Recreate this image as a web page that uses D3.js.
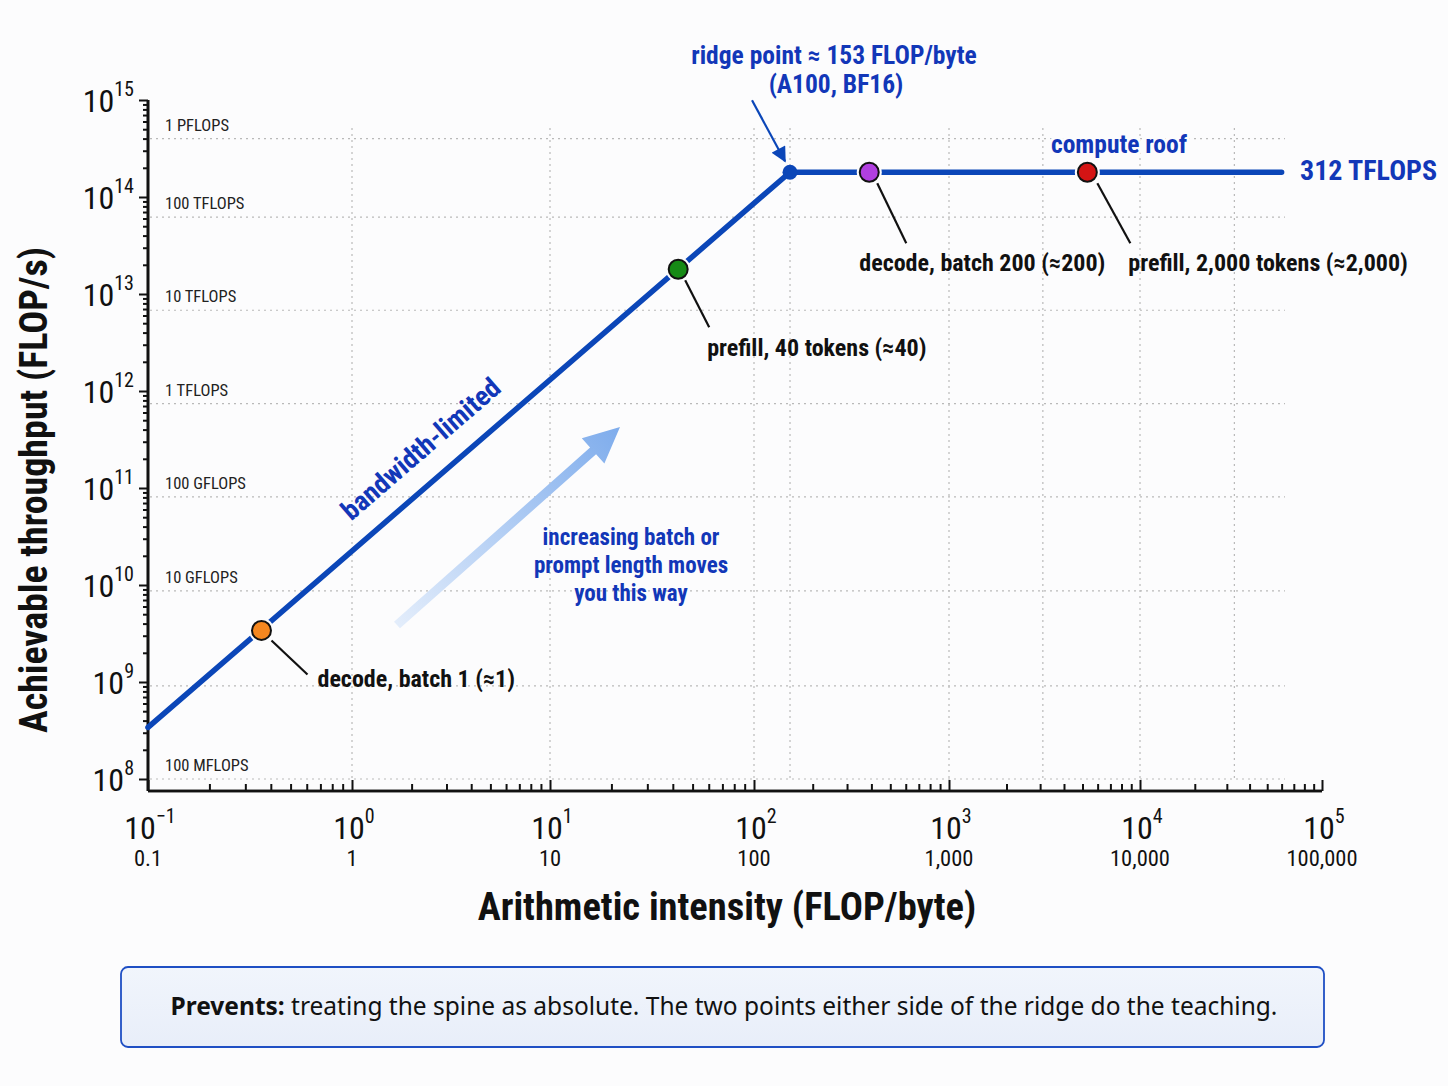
<!DOCTYPE html>
<html><head><meta charset="utf-8">
<script src="https://cdn.jsdelivr.net/npm/d3@7"></script>
<style>
html,body{margin:0;padding:0;background:#fcfcfd;}
svg{display:block;}
</style></head>
<body>
<svg id="chart" width="1448" height="1086"></svg>
<script>
// ---------------- data ----------------
const xTickValues = [0.1, 1, 10, 100, 1000, 10000, 100000];
const xTickExponents = ["−1", "0", "1", "2", "3", "4", "5"];
const xTickPlain = ["0.1", "1", "10", "100", "1,000", "10,000", "100,000"];
const yTickValues = [1e8, 1e9, 1e10, 1e11, 1e12, 1e13, 1e14, 1e15];
const yTickExponents = ["8", "9", "10", "11", "12", "13", "14", "15"];

// horizontal reference lines (values as drawn) and their labels
const hGridValues = [4.0e14, 6.2e13, 6.8e12, 7.4e11, 8.1e10, 8.7e9, 9.1e8, 1e8];
const hGridLabels = ["1 PFLOPS", "100 TFLOPS", "10 TFLOPS", "1 TFLOPS", "100 GFLOPS", "10 GFLOPS", "", "100 MFLOPS"];
const vGridValues = [1, 10, 100, 153, 1000, 3100, 10000, 33000];

// roofline (intensity, throughput)
const roofIntensity = [0.1, 153, 60000];
const roofThroughput = [3.4e8, 1.8e14, 1.8e14];
const ridgeIntensity = 153;
const ridgeThroughput = 1.8e14;

// workload points
const pointNames = ["decode, batch 1 (≈1)", "prefill, 40 tokens (≈40)", "decode, batch 200 (≈200)", "prefill, 2,000 tokens (≈2,000)"];
const pointIntensity = [0.36, 42.5, 390, 5300];
const pointThroughput = [3.4e9, 1.8e13, 1.8e14, 1.8e14];
const pointColors = ["#f5871f", "#168a16", "#b13fe0", "#d41414"];

// ---------------- layout ----------------
const COND = "'Liberation Sans Narrow','Roboto Condensed','Arial Narrow',Roboto,sans-serif";
const BLUE = "#0b46b8";
const TEXTBLUE = "#1237b8";
const svg = d3.select("#chart");

const x = d3.scaleLog()
  .domain(xTickValues)
  .range([148, 352, 550, 754, 949, 1140, 1322]);
const y = d3.scaleLog().domain([1e8, 1e15]).range([779, 100]);
const axisY = 791;

const defs = svg.append("defs");
const grad = defs.append("linearGradient").attr("id", "arrowGrad")
  .attr("gradientUnits", "userSpaceOnUse")
  .attr("x1", 397).attr("y1", 625).attr("x2", 620).attr("y2", 427);
grad.append("stop").attr("offset", "0").attr("stop-color", "#e3edfb");
grad.append("stop").attr("offset", "1").attr("stop-color", "#7eacec");
const boxGrad = defs.append("linearGradient").attr("id", "boxGrad").attr("x1", 0).attr("y1", 0).attr("x2", 0).attr("y2", 1);
boxGrad.append("stop").attr("offset", "0").attr("stop-color", "#f1f5fc");
boxGrad.append("stop").attr("offset", "1").attr("stop-color", "#e8eef9");
defs.append("marker").attr("id", "ridgeHead").attr("viewBox", "0 0 10 10")
  .attr("refX", 9).attr("refY", 5).attr("markerWidth", 7.5).attr("markerHeight", 7)
  .attr("orient", "auto").attr("markerUnits", "strokeWidth")
  .append("path").attr("d", "M0,0 L10,5 L0,10 z").attr("fill", BLUE);

// ---------------- grid ----------------
const grid = svg.append("g").attr("stroke", "#b9b9b9").attr("stroke-width", 1.2)
  .attr("stroke-dasharray", "2,4");
grid.selectAll(".h").data(hGridValues).join("line")
  .attr("x1", 150).attr("x2", 1285)
  .attr("y1", d => y(d)).attr("y2", d => y(d));
grid.selectAll(".v").data(vGridValues).join("line")
  .attr("x1", d => x(d)).attr("x2", d => x(d))
  .attr("y1", 128).attr("y2", y(1e8));

svg.append("g").selectAll("text").data(hGridValues.map((v, i) => ({v, t: hGridLabels[i]})).filter(d => d.t))
  .join("text")
  .attr("x", 165).attr("y", d => y(d.v) - 8)
  .attr("font-family", COND).attr("font-size", 16.5).attr("fill", "#222")
  .text(d => d.t);

// ---------------- axes ----------------
const xMinor = [];
for (let e = -1; e < 5; e++) for (let m = 2; m <= 9; m++) xMinor.push(m * Math.pow(10, e));
const yMinor = [];
for (let e = 8; e < 15; e++) for (let m = 2; m <= 9; m++) yMinor.push(m * Math.pow(10, e));

const xAxisMajor = d3.axisBottom(x).tickValues(xTickValues).tickSize(-11).tickFormat("");
const xAxisMinor = d3.axisBottom(x).tickValues(xMinor).tickSize(-7).tickFormat("");
const gx = svg.append("g").attr("transform", `translate(0,${axisY})`);
gx.call(xAxisMajor);
gx.append("g").call(xAxisMinor);
gx.selectAll("path.domain").attr("d", `M${x(0.1)},0H${x(1e5)}`);
gx.selectAll("path, line").attr("stroke", "#111").attr("stroke-width", 2);
gx.selectAll("path.domain").attr("stroke-width", 2.6);

const yAxisMajor = d3.axisLeft(y).tickValues(yTickValues).tickSize(9).tickFormat("");
const yAxisMinor = d3.axisLeft(y).tickValues(yMinor).tickSize(5).tickFormat("");
const gy = svg.append("g").attr("transform", `translate(${x(0.1)},0)`);
gy.call(yAxisMajor);
gy.append("g").call(yAxisMinor);
gy.selectAll("path.domain").attr("d", `M0,${y(1e15)}V${axisY}`);
gy.selectAll("path, line").attr("stroke", "#111").attr("stroke-width", 2);
gy.selectAll("path.domain").attr("stroke-width", 2.6);

// tick labels
const xl = svg.append("g").attr("font-family", COND).attr("fill", "#111");
xTickValues.forEach((v, i) => {
  const t = xl.append("text").attr("x", x(v) + 2).attr("y", 839).attr("text-anchor", "middle").attr("font-size", 32);
  t.append("tspan").text("10");
  t.append("tspan").attr("dy", -16).attr("font-size", 20).text(xTickExponents[i]);
  xl.append("text").attr("x", x(v)).attr("y", 866).attr("text-anchor", "middle")
    .attr("font-size", 22.5).text(xTickPlain[i]);
});
const yl = svg.append("g").attr("font-family", COND).attr("fill", "#111");
yTickValues.forEach((v, i) => {
  const t = yl.append("text").attr("x", 134).attr("y", y(v) + 12).attr("text-anchor", "end").attr("font-size", 32);
  t.append("tspan").text("10");
  t.append("tspan").attr("dy", -16).attr("font-size", 20).text(yTickExponents[i]);
});

// axis titles
svg.append("text").attr("x", 727).attr("y", 920).attr("text-anchor", "middle")
  .attr("font-family", COND).attr("font-weight", "bold").attr("font-size", 38.5).attr("fill", "#111")
  .text("Arithmetic intensity (FLOP/byte)");
svg.append("text").attr("transform", "translate(47,490) rotate(-90)").attr("text-anchor", "middle")
  .attr("font-family", COND).attr("font-weight", "bold").attr("font-size", 38).attr("fill", "#111")
  .text("Achievable throughput (FLOP/s)");

// ---------------- gradient arrow ----------------
(function () {
  const x1 = 397, y1 = 625, x2 = 620, y2 = 427;
  const ang = Math.atan2(y2 - y1, x2 - x1);
  const L = Math.hypot(x2 - x1, y2 - y1);
  const hl = 36, hw = 17, sw = 4.5;
  const pts = [[0, -sw], [L - hl, -sw], [L - hl, -hw], [L, 0], [L - hl, hw], [L - hl, sw], [0, sw]];
  const c = Math.cos(ang), s = Math.sin(ang);
  const P = pts.map(([u, v]) => [x1 + u * c - v * s, y1 + u * s + v * c]);
  svg.append("path").attr("d", "M" + P.map(p => p.join(",")).join("L") + "Z")
    .attr("fill", "url(#arrowGrad)");
})();

// ---------------- roofline ----------------
const line = d3.line().x((d, i) => x(roofIntensity[i])).y((d, i) => y(roofThroughput[i]));
svg.append("path").datum(roofIntensity).attr("d", line)
  .attr("fill", "none").attr("stroke", BLUE).attr("stroke-width", 5.5)
  .attr("stroke-linejoin", "round").attr("stroke-linecap", "round");

// ridge dot
svg.append("circle").attr("cx", x(ridgeIntensity)).attr("cy", y(ridgeThroughput)).attr("r", 7.5).attr("fill", BLUE);

// ridge annotation
svg.append("line").attr("x1", x(ridgeIntensity) - 38).attr("y1", y(ridgeThroughput) - 72)
  .attr("x2", x(ridgeIntensity) - 5).attr("y2", y(ridgeThroughput) - 11)
  .attr("stroke", BLUE).attr("stroke-width", 2.2).attr("marker-end", "url(#ridgeHead)");
const rt = svg.append("text").attr("font-family", COND).attr("font-weight", "bold").attr("font-size", 25.5)
  .attr("fill", TEXTBLUE).attr("text-anchor", "middle");
rt.append("tspan").attr("x", 834).attr("y", 64).text("ridge point ≈ 153 FLOP/byte");
rt.append("tspan").attr("x", 836).attr("y", 93).text("(A100, BF16)");

// roof labels
svg.append("text").attr("x", 1119).attr("y", 153).attr("text-anchor", "middle")
  .attr("font-family", COND).attr("font-weight", "bold").attr("font-size", 25.5).attr("fill", TEXTBLUE)
  .attr("stroke", "#fcfcfd").attr("stroke-width", 6).attr("paint-order", "stroke")
  .text("compute roof");
svg.append("text").attr("x", 1300).attr("y", 180)
  .attr("font-family", COND).attr("font-weight", "bold").attr("font-size", 28).attr("fill", TEXTBLUE)
  .text("312 TFLOPS");

// bandwidth label along the line
(function () {
  const a = x(0.1), b = y(3.4e8), c = x(153), d = y(1.8e14);
  const ang = Math.atan2(d - b, c - a) * 180 / Math.PI;
  svg.append("text").attr("transform", `translate(427,456) rotate(${ang})`).attr("text-anchor", "middle")
    .attr("font-family", COND).attr("font-weight", "bold").attr("font-size", 27.5).attr("fill", TEXTBLUE)
    .text("bandwidth-limited");
})();

// middle note
const mt = svg.append("text").attr("font-family", COND).attr("font-weight", "bold").attr("font-size", 23)
  .attr("fill", TEXTBLUE).attr("text-anchor", "middle");
["increasing batch or", "prompt length moves", "you this way"].forEach((s, i) =>
  mt.append("tspan").attr("x", 631).attr("y", 545 + i * 28).text(s));

// ---------------- points ----------------
const leader = [[10, 10, 46, 44], [7, 11, 31, 58], [8, 11, 37, 71], [10, 11, 43, 71]];
const labelOff = [[56, 57], [29, 87], [-10, 99], [41, 99]];
const pg = svg.append("g");
pointIntensity.forEach((v, i) => {
  const cx = x(v), cy = y(pointThroughput[i]);
  const L = leader[i];
  pg.append("line").attr("x1", cx + L[0]).attr("y1", cy + L[1]).attr("x2", cx + L[2]).attr("y2", cy + L[3])
    .attr("stroke", "#111").attr("stroke-width", 2.2);
  pg.append("circle").attr("cx", cx).attr("cy", cy).attr("r", 12.5).attr("fill", "#fcfcfd");
  pg.append("circle").attr("cx", cx).attr("cy", cy).attr("r", 9.5).attr("fill", pointColors[i])
    .attr("stroke", "#111").attr("stroke-width", 2);
  pg.append("text").attr("x", cx + labelOff[i][0]).attr("y", cy + labelOff[i][1])
    .attr("font-family", COND).attr("font-weight", "bold").attr("font-size", 24).attr("fill", "#111")
    .text(pointNames[i]);
});

// ---------------- bottom note ----------------
svg.append("rect").attr("x", 121).attr("y", 967).attr("width", 1203).attr("height", 80).attr("rx", 7)
  .attr("fill", "url(#boxGrad)").attr("stroke", "#1f4fc4").attr("stroke-width", 1.8);
const bt = svg.append("text").attr("x", 724).attr("y", 1015).attr("text-anchor", "middle")
  .attr("font-family", "'Noto Sans','Open Sans',sans-serif").attr("font-size", 24.5).attr("fill", "#111");
bt.append("tspan").attr("font-weight", "bold").text("Prevents:");
bt.append("tspan").text(" treating the spine as absolute. The two points either side of the ridge do the teaching.");
</script>
</body></html>
